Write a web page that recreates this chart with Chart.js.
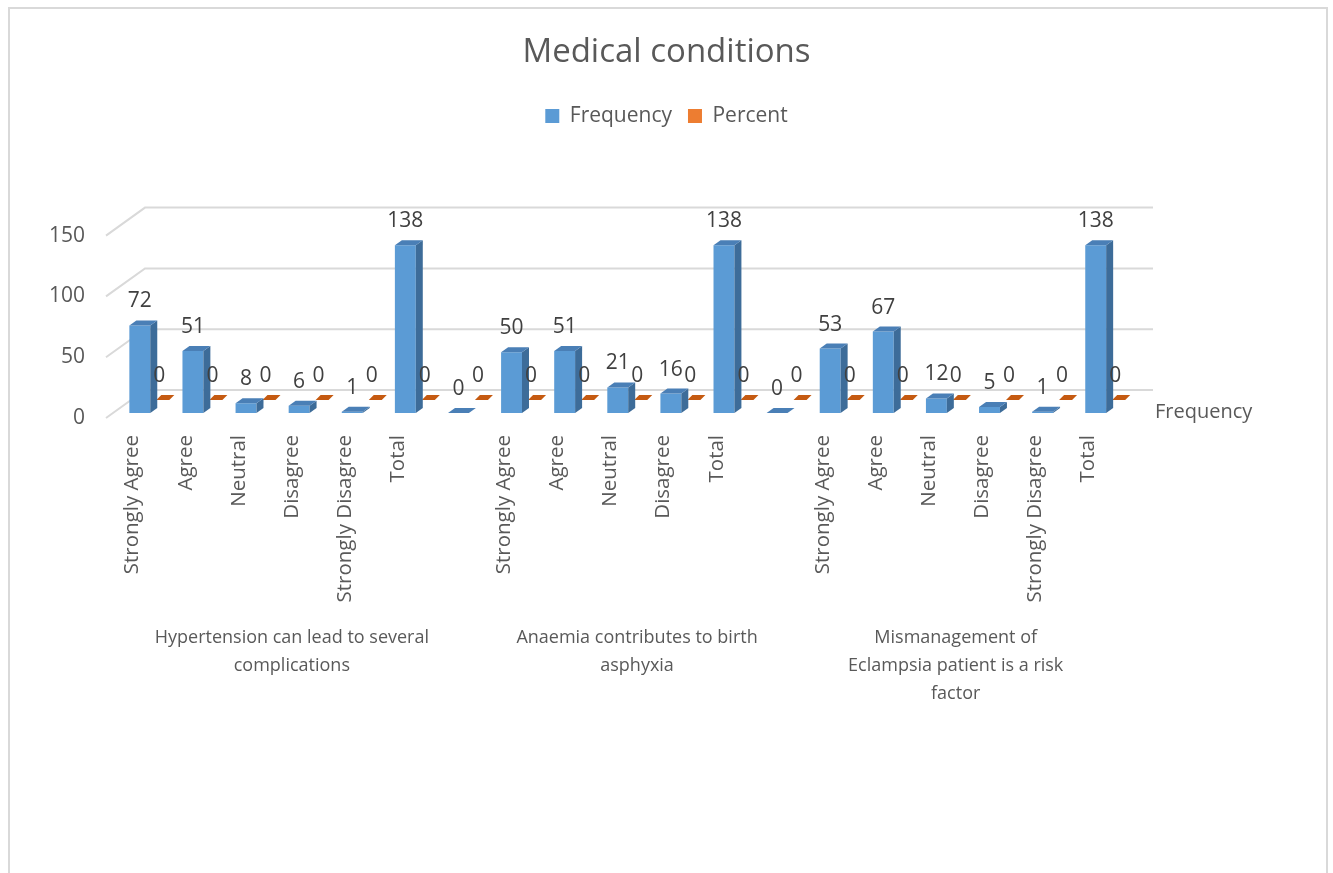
<!DOCTYPE html>
<html>
<head>
<meta charset="utf-8">
<script src="https://cdn.jsdelivr.net/npm/chart.js@4"></script>
<style>
  body { margin: 0; background: #fff; }
  #wrap { position: relative; width: 1333px; height: 873px; }
</style>
</head>
<body>
<div id="wrap"><canvas id="myChart"></canvas></div>
<script>
// Data
var categories = ["Strongly Agree", "Agree", "Neutral", "Disagree", "Strongly Disagree", "Total", "",
    "Strongly Agree", "Agree", "Neutral", "Disagree", "Total", "",
    "Strongly Agree", "Agree", "Neutral", "Disagree", "Strongly Disagree", "Total"];
var groupLabels = [
    ["Hypertension can lead to several", "complications"],
    ["Anaemia contributes to birth", "asphyxia"],
    ["Mismanagement of", "Eclampsia patient is a risk", "factor"]
];
var groupSizes = [7, 6, 6];
var frequency = [72, 51, 8, 6, 1, 138, 0, 50, 51, 21, 16, 138, 0, 53, 67, 12, 5, 1, 138];
var percent = [0, 0, 0, 0, 0, 0, 0, 0, 0, 0, 0, 0, 0, 0, 0, 0, 0, 0, 0];
var yTicks = [0, 50, 100, 150];

var textColor = "#595959";
var labelColor = "#404040";
var fontFamily = "'Open Sans', sans-serif";

Chart.defaults.font.family = fontFamily;
Chart.defaults.color = textColor;

// draws the excel style 3d look: back wall grid, bar sides, flat percent bars, labels
var threeD = {
    id: "threeD",
    beforeDraw(chart) {
        var ctx = chart.ctx;
        ctx.save();
        ctx.strokeStyle = "#D9D9D9";
        ctx.lineWidth = 2;
        ctx.strokeRect(9, 8, 1318, 900);
        ctx.restore();
    },
    beforeDatasetsDraw(chart) {
        var ctx = chart.ctx;
        var area = chart.chartArea;
        var y = chart.scales.y;
        ctx.save();
        ctx.strokeStyle = "#D9D9D9";
        ctx.lineWidth = 2;
        yTicks.forEach(function (t) {
            var py = y.getPixelForValue(t);
            ctx.beginPath();
            ctx.moveTo(area.left - 20, py + 5);
            ctx.lineTo(area.left + 19, py - 23);
            ctx.lineTo(area.right + 18, py - 23);
            ctx.stroke();
        });
        // percent row sits behind the frequency row
        var meta = chart.getDatasetMeta(1);
        ctx.fillStyle = "#C55A11";
        meta.data.forEach(function (bar) {
            var b = bar.base - 13;
            ctx.beginPath();
            ctx.moveTo(bar.x - 9, b);
            ctx.lineTo(bar.x + 4, b);
            ctx.lineTo(bar.x + 9, b - 5);
            ctx.lineTo(bar.x - 4, b - 5);
            ctx.closePath();
            ctx.fill();
        });
        ctx.restore();
    },
    afterDatasetsDraw(chart) {
        var ctx = chart.ctx;
        var area = chart.chartArea;
        var x = chart.scales.x;
        var dx = 7, dy = -5;
        ctx.save();
        var meta = chart.getDatasetMeta(0);
        meta.data.forEach(function (bar) {
            var l = bar.x - bar.width / 2, r = bar.x + bar.width / 2;
            var top = bar.y, base = bar.base;
            // side
            ctx.fillStyle = "#3D6C99";
            ctx.beginPath();
            ctx.moveTo(r, top);
            ctx.lineTo(r + dx, top + dy);
            ctx.lineTo(r + dx, base + dy);
            ctx.lineTo(r, base);
            ctx.closePath();
            ctx.fill();
            // top
            ctx.fillStyle = "#4A7FB6";
            ctx.beginPath();
            ctx.moveTo(l, top);
            ctx.lineTo(r, top);
            ctx.lineTo(r + dx, top + dy);
            ctx.lineTo(l + dx, top + dy);
            ctx.closePath();
            ctx.fill();
        });

        // value labels
        ctx.font = "21px " + fontFamily;
        ctx.fillStyle = labelColor;
        ctx.textAlign = "center";
        ctx.textBaseline = "middle";
        meta.data.forEach(function (bar, i) {
            ctx.fillText(String(frequency[i]), bar.x, bar.y - 24);
        });
        chart.getDatasetMeta(1).data.forEach(function (bar, i) {
            ctx.fillText(String(percent[i]), bar.x - 6, bar.base - 37);
        });

        // group labels under the tick labels
        ctx.fillStyle = textColor;
        ctx.font = "18px " + fontFamily;
        var start = 0;
        groupSizes.forEach(function (n, g) {
            var cx = (x.getPixelForTick(start) + x.getPixelForTick(start + n - 1)) / 2 - 20;
            groupLabels[g].forEach(function (line, k) {
                ctx.fillText(line, cx, 638 + k * 28);
            });
            start += n;
        });

        // series axis label
        ctx.textAlign = "left";
        ctx.font = "20px " + fontFamily;
        ctx.fillText("Frequency", area.right + 20, 412);
        ctx.restore();
    }
};

new Chart("myChart", {
    type: "bar",
    data: {
        labels: categories,
        datasets: [{
            label: "Frequency",
            data: frequency,
            backgroundColor: "#5B9BD5",
            borderWidth: 0,
            categoryPercentage: 0.96,
            barPercentage: 0.82,
        },
        {
            label: "Percent",
            data: percent,
            backgroundColor: "#ED7D31",
            borderWidth: 0,
            categoryPercentage: 0.96,
            barPercentage: 0.82,
        }],
    },
    options: {
        responsive: true,
        maintainAspectRatio: false,
        animation: false,
        layout: {
            padding: { top: 0, right: 0, bottom: 240, left: 0 },
        },
        plugins: {
            title: {
                display: true,
                text: "Medical conditions",
                color: textColor,
                font: { size: 33, weight: "normal" },
                padding: { top: 33, bottom: 17 },
            },
            legend: {
                display: true,
                position: "top",
                labels: {
                    boxWidth: 14,
                    boxHeight: 14,
                    padding: 16,
                    color: textColor,
                    font: { size: 21 },
                },
            },
            subtitle: {
                display: true,
                text: "",
                position: "top",
                weight: 0,
                font: { size: 10 },
                padding: { top: 82, bottom: 0 },
            },
            tooltip: { enabled: false },
        },
        scales: {
            x: {
                grid: { display: false },
                border: { display: false },
                ticks: {
                    autoSkip: false,
                    maxRotation: 90,
                    minRotation: 90,
                    padding: 14,
                    labelOffset: -20,
                    color: textColor,
                    font: { size: 20.5 },
                },
                afterFit: function (scale) {
                    scale.height = 220;
                },
            },
            y: {
                min: 0,
                max: 150,
                grid: { display: false },
                border: { display: false },
                ticks: {
                    stepSize: 50,
                    padding: 33,
                    labelOffset: 5,
                    color: textColor,
                    font: { size: 21 },
                },
                afterFit: function (scale) {
                    scale.width = 126;
                },
            },
            // empty axis that keeps room on the right for the series label
            yRight: {
                position: "right",
                display: true,
                grid: { display: false },
                border: { display: false },
                ticks: { display: false },
                afterFit: function (scale) {
                    scale.width = 198;
                },
            },
        },
    },
    plugins: [threeD],
});
</script>
</body>
</html>
